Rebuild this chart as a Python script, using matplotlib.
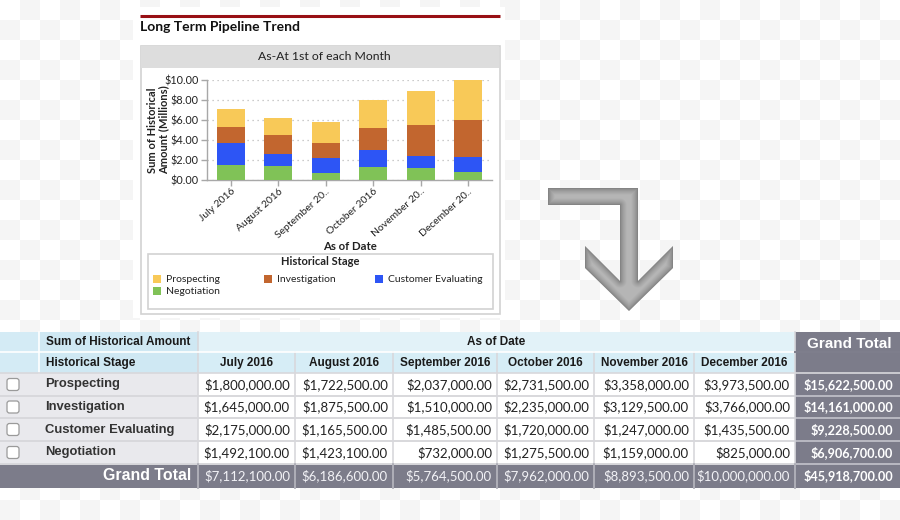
import numpy as np
import matplotlib
matplotlib.use("Agg")
import matplotlib.pyplot as plt
from matplotlib.patches import Rectangle, Polygon, FancyBboxPatch
from matplotlib.transforms import ScaledTranslation

# ---------------- data ----------------
months = ["July 2016", "August 2016", "September 2016", "October 2016",
          "November 2016", "December 2016"]
month_ticks = ["July 2016", "August 2016", "September 20..", "October 2016",
               "November 20..", "December 20.."]
stages = ["Prospecting", "Investigation", "Customer Evaluating", "Negotiation"]
prospecting = [1800000.00, 1722500.00, 2037000.00, 2731500.00, 3358000.00, 3973500.00]
investigation = [1645000.00, 1875500.00, 1510000.00, 2235000.00, 3129500.00, 3766000.00]
customer_eval = [2175000.00, 1165500.00, 1485500.00, 1720000.00, 1247000.00, 1435500.00]
negotiation = [1492100.00, 1423100.00, 732000.00, 1275500.00, 1159000.00, 825000.00]
stage_colors = ["#f8c958", "#c2662f", "#2d55f5", "#80c257"]
y_ticks = [0, 2, 4, 6, 8, 10]

series = [prospecting, investigation, customer_eval, negotiation]

W, H = 900, 520
fig = plt.figure(figsize=(9, 5.2), dpi=100)

LATO = ["Lato", "DejaVu Sans"]
ARIAL = ["Liberation Sans", "DejaVu Sans"]

# ---------------- background overlay ----------------
bg = fig.add_axes([0, 0, 1, 1], zorder=0)
ii, jj = np.indices((H // 20, W // 20 + 1))
checker = ((ii + jj) % 2).astype(float)
bg.imshow(checker, extent=(0, (W // 20 + 1) * 20, H // 20 * 20, 0), cmap="Greys",
          vmin=0, vmax=12, interpolation="nearest", aspect="auto", zorder=0)
bg.set_xlim(0, W)
bg.set_ylim(H, 0)
bg.axis("off")

def rect(x0, y0, x1, y1, fc, ec="none", lw=0, z=1):
    bg.add_patch(Rectangle((x0, y0), x1 - x0, y1 - y0, facecolor=fc,
                           edgecolor=ec, linewidth=lw, zorder=z))

# chart panel
rect(133, 7, 505, 318, "white", z=1)
bg.plot([140, 500], [15.5, 15.5], color="#980f14", lw=2.2, zorder=2,
        solid_capstyle="butt")
bg.text(140, 27, "Long Term Pipeline Trend", fontsize=10, fontweight="bold",
        family=LATO, color="#111111", va="center", ha="left", zorder=3)
rect(140.5, 45.5, 499.5, 313.5, "white", ec="#d2d2d2", lw=1.2, z=2)
rect(141, 46, 499, 68, "#dddddd", z=2)
bg.text(324, 57, "As-At 1st of each Month", fontsize=8.8, family=LATO,
        color="#222222", va="center", ha="center", zorder=3)

# legend (manual)
rect(147.5, 253.5, 493, 309, "white", ec="#d2d2d2", lw=1.2, z=2)
bg.text(320, 261.5, "Historical Stage", fontsize=8, fontweight="bold",
        family=LATO, color="#222222", va="center", ha="center", zorder=3)
leg_pos = [(157, 279), (268, 279), (379, 279), (157, 291)]
for (lx, ly), name, col in zip(leg_pos, stages, stage_colors):
    rect(lx - 4, ly - 4, lx + 4, ly + 4, col, z=3)
    bg.text(lx + 9, ly, name, fontsize=7.5, family=LATO, color="#222222",
            va="center", ha="left", zorder=3)

# arrow with bevelled shading
arrow_pts = [(548, 188), (638, 188), (638, 281), (673, 246), (673, 268),
             (629, 311), (585, 268), (585, 246), (620, 281), (620, 205),
             (548, 205)]
ax0, ax1, ay0, ay1 = 545, 676, 185, 314
gx, gy = np.meshgrid(np.arange(ax0, ax1) + 0.5, np.arange(ay0, ay1) + 0.5)
dist = np.full(gx.shape, 1e9)
pts = np.array(arrow_pts + [arrow_pts[0]], dtype=float)
for (x1_, y1_), (x2_, y2_) in zip(pts[:-1], pts[1:]):
    dx, dy = x2_ - x1_, y2_ - y1_
    t = np.clip(((gx - x1_) * dx + (gy - y1_) * dy) / (dx * dx + dy * dy), 0, 1)
    d = np.hypot(gx - (x1_ + t * dx), gy - (y1_ + t * dy))
    dist = np.minimum(dist, d)
shade = np.clip(dist / 7.0, 0, 1) ** 0.6
gray = 0.47 + 0.24 * shade
img = np.dstack([gray, gray, gray])
im = bg.imshow(img, extent=(ax0, ax1, ay1, ay0), aspect="auto", zorder=2,
               interpolation="bilinear")
im.set_clip_path(Polygon(arrow_pts, closed=True, transform=bg.transData))

# ---------------- table ----------------
col_x = [0, 39, 198, 295, 393, 497, 594, 694, 795, 900]
row_y = [332, 352, 373, 396, 418, 441, 464, 488]
hdr_blue = "#d4ebf5"
hdr_blue2 = "#cfe8f3"
stage_gray = "#e9e9ed"
total_gray = "#7c7c8a"

rect(0, 332, 39, 352, hdr_blue, z=1)
rect(39, 332, 198, 352, hdr_blue2, z=1)
rect(198, 332, 795, 352, "#e2f2f8", z=1)
rect(795, 332, 900, 373, total_gray, z=1)
rect(0, 352, 39, 373, hdr_blue, z=1)
for c in range(1, 8):
    rect(col_x[c], 352, col_x[c + 1], 373, hdr_blue2 if c == 1 else "#d6edf6", z=1)
for r in range(4):
    y0, y1 = row_y[r + 2], row_y[r + 3]
    rect(0, y0, 198, y1, stage_gray, z=1)
    rect(198, y0, 795, y1, "white", z=1)
    rect(795, y0, 900, y1, total_gray, z=1)
rect(0, 464, 900, 488, total_gray, z=1)

for c in col_x[1:-1]:
    if c == 39:
        continue
    bg.plot([c, c], [352 if c not in (198, 795) else 332, 488],
            color="#d8d8dc", lw=1.2, zorder=2)
bg.plot([39, 39], [332, 373], color="white", lw=1.2, zorder=2)
for y in row_y[1:-1]:
    bg.plot([0, 900], [y, y], color="#d8d8dc" if y > 352 else "white",
            lw=1.2, zorder=2)
bg.plot([795, 900], [352, 352], color=total_gray, lw=1.4, zorder=2)
for y in row_y[3:7]:
    bg.plot([795, 900], [y, y], color="#b4b4be", lw=1.2, zorder=2)
    bg.plot([0, 795], [y, y], color="#d8d8dc", lw=1.2, zorder=2)
for c in col_x[2:-1]:
    bg.plot([c, c], [464, 488], color="#a8a8b2", lw=1.2, zorder=2)

bg.text(46, 342, "Sum of Historical Amount", fontsize=8.5, fontweight="bold",
        family=ARIAL, color="#1a1a1a", va="center", ha="left", zorder=3)
bg.text((198 + 795) / 2, 342, "As of Date", fontsize=8.5, fontweight="bold",
        family=ARIAL, color="#1a1a1a", va="center", ha="center", zorder=3)
bg.text(849, 344, "Grand Total", fontsize=11, fontweight="bold",
        family=ARIAL, color="white", va="center", ha="center", zorder=3)
bg.text(46, 363, "Historical Stage", fontsize=8.5, fontweight="bold",
        family=ARIAL, color="#1a1a1a", va="center", ha="left", zorder=3)
for c, m in enumerate(months):
    cx = (col_x[c + 2] + col_x[c + 3]) / 2
    bg.text(cx, 363, m, fontsize=8.5, fontweight="bold", family=ARIAL,
            color="#1a1a1a", va="center", ha="center", zorder=3)

def money(v):
    return "${:,.2f}".format(v)

for r, (name, vals) in enumerate(zip(stages, series)):
    y0, y1 = row_y[r + 2], row_y[r + 3]
    cy = (y0 + y1) / 2
    bg.add_patch(FancyBboxPatch((7, cy - 6), 12, 12,
                                boxstyle="round,pad=0,rounding_size=2.5",
                                facecolor="white", edgecolor="#9a9a9a", lw=0.9,
                                zorder=3))
    bg.text(45, cy, name, fontsize=9.4, fontweight="bold", family=ARIAL,
            color="#333333", va="center", ha="left", zorder=3)
    for c, v in enumerate(vals):
        bg.text(col_x[c + 3] - 5, cy, money(v), fontsize=9.5, family=LATO,
                color="#222222", va="center", ha="right", zorder=3)
    bg.text(893, cy, money(sum(vals)), fontsize=9.1, fontweight="bold",
            family=LATO, color="white", va="center", ha="right", zorder=3)

totals = [sum(s[i] for s in series) for i in range(len(months))]
bg.text(191, 476, "Grand Total", fontsize=11.4, fontweight="bold", family=ARIAL,
        color="white", va="center", ha="right", zorder=3)
for c, v in enumerate(totals):
    bg.text(col_x[c + 3] - 5, 476, money(v), fontsize=9.5, family=LATO,
            color="#f2f2f6", va="center", ha="right", zorder=3)
bg.text(893, 476, money(sum(totals)), fontsize=9.1, fontweight="bold",
        family=LATO, color="white", va="center", ha="right", zorder=3)

# ---------------- bar chart ----------------
ax = fig.add_axes([207 / W, 1 - 180 / H, 285 / W, 100 / H], zorder=5)
ax.set_facecolor("none")
x = np.arange(len(months))
bottom = np.zeros(len(months))
for vals, col in zip(series[::-1], stage_colors[::-1]):
    v = np.array(vals) / 1e6
    ax.bar(x, v, width=0.59, bottom=bottom, color=col, zorder=3)
    bottom += v
ax.set_xlim(-0.5, len(months) - 0.5)
ax.set_ylim(0, 10)
ax.set_yticks(y_ticks)
ax.set_yticklabels(["${:.2f}".format(t) for t in y_ticks], family=LATO,
                   fontsize=7.8, color="#222222")
ax.set_xticks(x)
ax.set_xticklabels(month_ticks, rotation=42, ha="right",
                   rotation_mode="anchor", family=LATO, fontsize=7.5,
                   color="#222222")
shift = ScaledTranslation(6 / 100, 1 / 100, fig.dpi_scale_trans)
for lab in ax.get_xticklabels():
    lab.set_transform(lab.get_transform() + shift)
for sp in ["top", "right"]:
    ax.spines[sp].set_visible(False)
for sp in ["left", "bottom"]:
    ax.spines[sp].set_color("#a8a8a8")
    ax.spines[sp].set_linewidth(1.0)
ax.tick_params(axis="both", color="#a8a8a8", length=4, width=1, pad=2)
ax.tick_params(axis="x", pad=1)
ax.yaxis.grid(True, linestyle=(0, (1, 3)), color="#bbbbbb", lw=0.9, zorder=0)
ax.set_axisbelow(True)
ax.set_ylabel("Sum of Historical\nAmount (Millions)", family=LATO,
              fontsize=8, fontweight="bold", color="#222222",
              linespacing=1.0)
ax.yaxis.set_label_coords((169 - 207) / 285, 0.5)
ax.set_xlabel("As of Date", family=LATO, fontsize=8.2, fontweight="bold",
              color="#222222")
ax.xaxis.set_label_coords(0.5, -(241 - 180) / 100)

fig.savefig("out.png", dpi=100)
